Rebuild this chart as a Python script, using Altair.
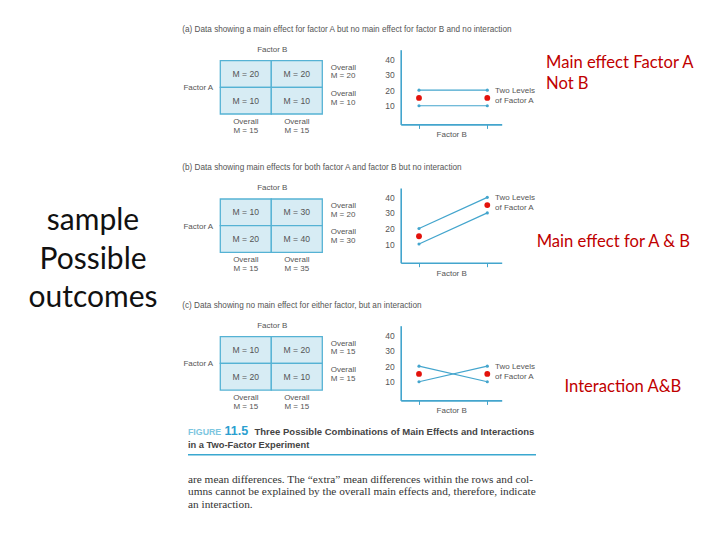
import altair as alt
import pandas as pd

# ------------------------------------------------------------------
# Values
# ------------------------------------------------------------------
PANEL_TITLES = [
    "(a) Data showing a main effect for factor A but no main effect for factor B and no interaction",
    "(b) Data showing main effects for both factor A and factor B but no interaction",
    "(c) Data showing no main effect for either factor, but an interaction",
]
FACTOR_A_LEVELS = ["A1", "A2"]
FACTOR_B_LEVELS = ["B1", "B2"]
CELL_MEANS_A = [[20, 20], [10, 10]]
CELL_MEANS_B = [[10, 30], [20, 40]]
CELL_MEANS_C = [[10, 20], [20, 10]]
ROW_OVERALL_A = [20, 10]
ROW_OVERALL_B = [20, 30]
ROW_OVERALL_C = [15, 15]
COL_OVERALL_A = [15, 15]
COL_OVERALL_B = [15, 35]
COL_OVERALL_C = [15, 15]
Y_TICKS = [10, 20, 30, 40]
B_POSITIONS = [1, 2]

SIDE_TEXT = ["sample", "Possible", "outcomes"]
ANNOTATIONS = ["Main effect Factor A", "Not B", "Main effect for A & B", "Interaction A&B"]
CAPTION_PARTS = ["FIGURE", "11.5", "Three Possible Combinations of Main Effects and Interactions",
                 "in a Two-Factor Experiment"]
BODY_LINES = [
    "are mean differences. The \u201cextra\u201d mean differences within the rows and col-",
    "umns cannot be explained by the overall main effects and, therefore, indicate",
    "an interaction.",
]

# ------------------------------------------------------------------
# Styling / layout
# ------------------------------------------------------------------
W, H = 704, 524
SANS = "Liberation Sans"
SERIF = "Liberation Serif"
SLIDE = "Lato"
GRAY = "#555555"
TEAL = "#43a5cd"
CELL_FILL = "#d7ecf4"
CELL_STROKE = "#55b2d4"
RED_DOT = "#e3120b"
ANNOT_RED = "#c00000"
PANEL_OFF = [0.0, 138.3, 276.0]


def px(x):
    return x - 8


def py(y):
    return y - 8


def text_layer(t, x, y, size, color=GRAY, font=SANS, align="left", baseline="middle", weight="normal", style="normal"):
    return alt.Chart(pd.DataFrame({"t": [t]})).mark_text(
        align=align, baseline=baseline, font=font, fontSize=size, color=color,
        fontWeight=weight, fontStyle=style
    ).encode(x=alt.value(px(x)), y=alt.value(py(y)), text="t:N")


def table_layer(cells, row_overall, col_overall, off):
    xs = alt.Scale(domain=["L", "B1", "B2", "R"], range=[px(169.3), px(373.3)],
                   paddingInner=0, paddingOuter=0)
    ys = alt.Scale(domain=["T", "A1", "A2", "Bot"], range=[py(34 + off), py(140.7 + off)],
                   paddingInner=0, paddingOuter=0)
    cell_df = pd.DataFrame([
        {"a": FACTOR_A_LEVELS[i], "b": FACTOR_B_LEVELS[j], "t": f"M = {cells[i][j]}"}
        for i in range(2) for j in range(2)
    ])
    row_df = pd.DataFrame({"a": FACTOR_A_LEVELS, "b": ["R", "R"],
                           "o": ["Overall", "Overall"],
                           "t": [f"M = {v}" for v in row_overall]})
    col_df = pd.DataFrame({"a": ["Bot", "Bot"], "b": FACTOR_B_LEVELS,
                           "o": ["Overall", "Overall"],
                           "t": [f"M = {v}" for v in col_overall]})
    fb_df = pd.DataFrame({"a": ["T"], "b": ["B1"], "t": ["Factor B"]})
    fa_df = pd.DataFrame({"a": ["A1"], "b": ["L"], "t": ["Factor A"]})

    X = lambda **kw: alt.X("b:N", scale=xs, axis=None, **kw)
    Y = lambda **kw: alt.Y("a:N", scale=ys, axis=None, **kw)
    tx = dict(font=SANS, fontSize=8, color=GRAY, baseline="middle")

    rect = alt.Chart(cell_df).mark_rect(fill=CELL_FILL, stroke=CELL_STROKE, strokeWidth=1.3).encode(x=X(), y=Y())
    ctext = alt.Chart(cell_df).mark_text(align="center", font=SANS, fontSize=8.6, color=GRAY,
                                         baseline="middle").encode(x=X(), y=Y(), text="t:N")
    r1 = alt.Chart(row_df).mark_text(align="left", dx=8.4, dy=-6.5, **tx).encode(
        x=X(bandPosition=0), y=Y(), text="o:N")
    r2 = alt.Chart(row_df).mark_text(align="left", dx=8.4, dy=2.4, **tx).encode(
        x=X(bandPosition=0), y=Y(), text="t:N")
    c1 = alt.Chart(col_df).mark_text(align="center", dy=-5.6, **tx).encode(x=X(), y=Y(), text="o:N")
    c2 = alt.Chart(col_df).mark_text(align="center", dy=3.4, **tx).encode(x=X(), y=Y(), text="t:N")
    fb = alt.Chart(fb_df).mark_text(align="center", dx=1, dy=2.7, **tx).encode(
        x=X(bandPosition=1), y=Y(), text="t:N")
    fa = alt.Chart(fa_df).mark_text(align="center", dx=3.5, dy=1, **tx).encode(
        x=X(), y=Y(bandPosition=1), text="t:N")
    return alt.layer(rect, ctext, r1, r2, c1, c2, fb, fa)


def line_layer(cells, col_overall, off):
    xs = alt.Scale(domain=[0.732, 2.211], range=[px(400.7), px(501.7)], nice=False, zero=False)
    ys = alt.Scale(domain=[-2, 46], range=[py(124.4 + off), py(49.7 + off)], nice=False, zero=False)
    x_axis = alt.Axis(orient="bottom", offset=py(124.4 + off) - H, values=B_POSITIONS, labels=False,
                      ticks=True, tickSize=4, tickColor=TEAL, tickWidth=1, domainColor=TEAL,
                      domainWidth=1.6, grid=False, title="Factor B", titleFont=SANS, titleFontSize=8,
                      titleFontWeight="normal", titleColor=GRAY, titlePadding=2)
    y_axis = alt.Axis(orient="left", offset=-px(400.7), values=Y_TICKS, ticks=False, tickSize=0,
                      labelPadding=6.5, labelFont=SANS, labelFontSize=8.5, labelColor=GRAY,
                      domainColor=TEAL, domainWidth=1.6, grid=False, title=None)
    X = alt.X("bx:Q", scale=xs, axis=x_axis)
    Y = alt.Y("v:Q", scale=ys, axis=y_axis)

    line_df = pd.DataFrame([
        {"a": FACTOR_A_LEVELS[i], "bx": B_POSITIONS[j], "v": cells[i][j]}
        for i in range(2) for j in range(2)
    ])
    mean_df = pd.DataFrame({"bx": B_POSITIONS, "v": col_overall})
    lab_df = pd.DataFrame({"bx": [B_POSITIONS[1]], "v": [col_overall[1]],
                           "t1": ["Two Levels"], "t2": ["of Factor A"]})

    lines = alt.Chart(line_df).mark_line(color=TEAL, strokeWidth=1.2).encode(x=X, y=Y, detail="a:N")
    pts = alt.Chart(line_df).mark_circle(color=TEAL, size=10, opacity=1).encode(x=X, y=Y)
    red = alt.Chart(mean_df).mark_circle(color=RED_DOT, size=34, opacity=1).encode(x=X, y=Y)
    tx = dict(font=SANS, fontSize=8, color=GRAY, baseline="middle", align="left", dx=7.7)
    l1 = alt.Chart(lab_df).mark_text(dy=-7, **tx).encode(x=X, y=Y, text="t1:N")
    l2 = alt.Chart(lab_df).mark_text(dy=2.8, **tx).encode(x=X, y=Y, text="t2:N")
    return alt.layer(lines, pts, red, l1, l2)


layers = []
# slide text on the left
for t, yb in zip(SIDE_TEXT, [229.5, 268.5, 307.0]):
    layers.append(text_layer(t, 93, yb, 30, color="#111111", font=SLIDE, align="center", baseline="alphabetic"))

panel_data = [
    (CELL_MEANS_A, ROW_OVERALL_A, COL_OVERALL_A),
    (CELL_MEANS_B, ROW_OVERALL_B, COL_OVERALL_B),
    (CELL_MEANS_C, ROW_OVERALL_C, COL_OVERALL_C),
]
for k, (cells, rows, cols) in enumerate(panel_data):
    off = PANEL_OFF[k]
    layers.append(text_layer(PANEL_TITLES[k], 182.3, 30 + off, 8.2))
    layers.append(table_layer(cells, rows, cols, off))
    layers.append(line_layer(cells, cols, off))

# red annotations
layers.append(text_layer(ANNOTATIONS[0], 546, 63.3, 16.6, color=ANNOT_RED, font=SLIDE))
layers.append(text_layer(ANNOTATIONS[1], 546, 84.3, 16.6, color=ANNOT_RED, font=SLIDE))
layers.append(text_layer(ANNOTATIONS[2], 536.7, 241.7, 16.6, color=ANNOT_RED, font=SLIDE))
layers.append(text_layer(ANNOTATIONS[3], 564.5, 386.5, 16.6, color=ANNOT_RED, font=SLIDE))

# figure caption
layers.append(text_layer(CAPTION_PARTS[0], 188, 431.5, 8.8, color="#7cc6e0", weight="bold"))
layers.append(text_layer(CAPTION_PARTS[1], 224.5, 431.3, 12.5, color="#2b9fd0", weight="bold"))
layers.append(text_layer(CAPTION_PARTS[2], 254.5, 431.5, 9.5, color="#444444", weight="bold"))
layers.append(text_layer(CAPTION_PARTS[3], 188, 444.7, 9.3, color="#444444", weight="bold"))
layers.append(
    alt.Chart(pd.DataFrame({"k": [0]})).mark_rule(color="#3aa8d0", strokeWidth=1.4).encode(
        x=alt.value(px(188)), x2=alt.value(px(536)), y=alt.value(py(454.7)))
)
for line, yc in zip(BODY_LINES, [480.0, 492.4, 504.8]):
    layers.append(text_layer(line, 188, yc, 11.3, color="#333333", font=SERIF))

chart = alt.layer(*layers).resolve_scale(x="independent", y="independent").properties(
    width=W, height=H, padding=0, background="white",
    autosize=alt.AutoSizeParams(type="none"),
).configure_view(stroke=None)

chart.save("out.html", embed_options={"renderer": "svg", "actions": False})
